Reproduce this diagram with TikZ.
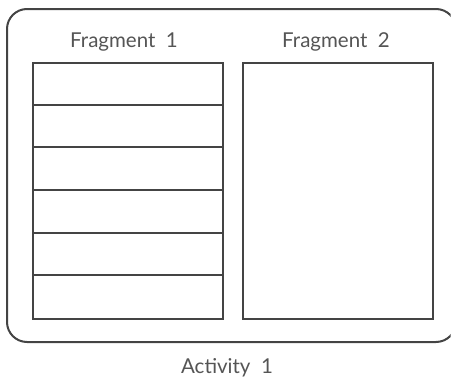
\documentclass[tikz,border=0pt]{standalone}
\usepackage{fontspec}
\setmainfont{Lato}
\definecolor{linec}{HTML}{444444}
\definecolor{textc}{HTML}{555555}
\begin{document}
\begin{tikzpicture}[x=1pt,y=-1pt,
  frame/.style={draw=linec,line width=2pt},
  lbl/.style={text=textc,font=\fontsize{20.5}{22}\selectfont,inner sep=0pt,anchor=base}]
\useasboundingbox (0,0) rectangle (451,380);
\clip (0,0) rectangle (450.5,380);
\draw[frame,rounded corners=20pt] (7,9) rectangle (456,342);
\node[frame,rectangle,minimum width=190pt,minimum height=256pt,inner sep=0pt,anchor=north west] (f1) at (32,62) {};
\node[frame,rectangle,minimum width=190pt,minimum height=256pt,inner sep=0pt,anchor=north west] (f2) at (242,62) {};
\foreach \y in {104.7,147.3,190,232.7,275.3}{
  \draw[frame] (f1.west |- 0,\y) -- (f1.east |- 0,\y);
}
\node[lbl] (t1) at (124,47) {Fragment\ \ 1};
\node[lbl] (t2) at (336,47) {Fragment\ \ 2};
\node[lbl] (t3) at (227,373) {Activity\ \ 1};
\end{tikzpicture}
\end{document}
